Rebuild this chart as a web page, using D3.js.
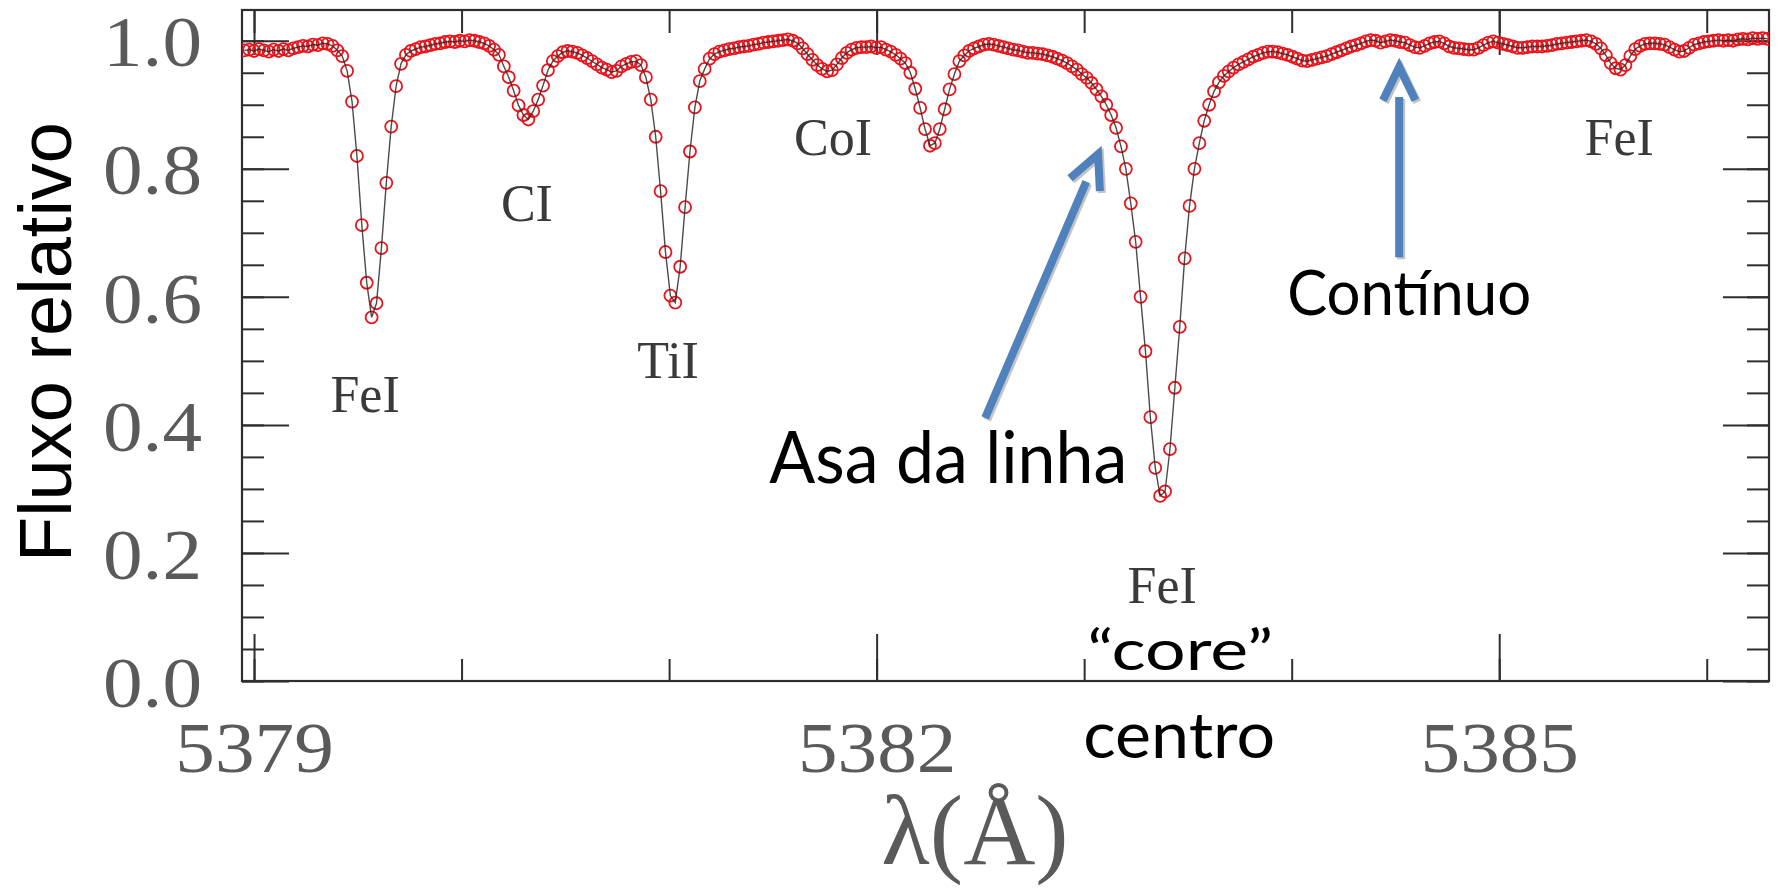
<!DOCTYPE html>
<html>
<head>
<meta charset="utf-8">
<script src="https://cdn.jsdelivr.net/npm/d3@7"></script>
<style>
  html, body { margin: 0; padding: 0; background: #fff; }
  svg { display: block; }
</style>
</head>
<body>
<svg id="chart" width="1781" height="889"></svg>
<script>
// Solar spectrum around 5382 Å, sampled on a regular wavelength grid
const lambdaStart = 5378.953;   // Å, first sample
const lambdaStep = 0.0236;      // Å per sample

// Relative flux for each sample
const flux = [
  0.985,0.986,0.984,0.987,0.985,0.983,0.986,0.984,0.987,0.985,
  0.988,0.990,0.992,0.991,0.994,0.993,0.996,0.995,0.992,0.985,
  0.976,0.953,0.905,0.820,0.712,0.622,0.568,0.590,0.676,0.778,
  0.866,0.929,0.964,0.978,0.984,0.987,0.990,0.991,0.993,0.995,
  0.996,0.998,0.999,0.998,1.000,0.999,1.001,1.000,0.998,0.996,
  0.992,0.986,0.978,0.960,0.943,0.922,0.899,0.884,0.877,0.890,
  0.908,0.930,0.954,0.968,0.976,0.982,0.984,0.983,0.981,0.977,
  0.973,0.968,0.963,0.958,0.955,0.951,0.953,0.960,0.964,0.967,
  0.968,0.962,0.943,0.908,0.850,0.765,0.670,0.602,0.591,0.647,
  0.740,0.827,0.896,0.937,0.956,0.972,0.979,0.983,0.985,0.987,
  0.988,0.990,0.991,0.992,0.994,0.995,0.997,0.998,0.999,1.000,
  1.001,1.002,1.000,0.996,0.988,0.979,0.970,0.962,0.956,0.952,
  0.954,0.963,0.973,0.981,0.986,0.989,0.990,0.990,0.991,0.989,
  0.990,0.986,0.983,0.978,0.972,0.965,0.950,0.925,0.895,0.862,
  0.836,0.840,0.862,0.893,0.924,0.948,0.968,0.977,0.984,0.988,
  0.991,0.994,0.995,0.994,0.992,0.990,0.988,0.986,0.985,0.983,
  0.981,0.981,0.980,0.979,0.977,0.975,0.972,0.969,0.965,0.960,
  0.955,0.948,0.942,0.934,0.924,0.913,0.900,0.884,0.864,0.835,
  0.800,0.746,0.686,0.600,0.515,0.412,0.333,0.289,0.296,0.362,
  0.458,0.553,0.660,0.742,0.800,0.840,0.875,0.900,0.921,0.935,
  0.945,0.952,0.958,0.963,0.967,0.971,0.975,0.978,0.981,0.983,
  0.983,0.982,0.980,0.978,0.975,0.972,0.969,0.968,0.970,0.972,
  0.974,0.976,0.979,0.982,0.985,0.988,0.991,0.993,0.996,0.999,
  1.001,1.000,0.997,0.999,1.001,1.000,0.998,0.997,0.993,0.990,
  0.989,0.992,0.996,0.998,0.999,0.996,0.991,0.989,0.988,0.987,
  0.986,0.986,0.989,0.993,0.997,0.999,0.997,0.995,0.993,0.991,
  0.989,0.989,0.990,0.991,0.991,0.991,0.992,0.993,0.995,0.996,
  0.997,0.998,0.999,1.000,1.001,0.999,0.995,0.988,0.977,0.965,
  0.957,0.955,0.962,0.976,0.987,0.992,0.995,0.996,0.996,0.995,
  0.994,0.990,0.986,0.983,0.984,0.989,0.994,0.996,0.998,0.999,
  1.000,1.001,1.000,1.001,1.000,1.002,1.003,1.002,1.004,1.003,
  1.004,1.003
];

// Axis ticks
const xMajorTicks = [5379, 5382, 5385];
const xMinorTicks = [5379, 5380, 5381, 5382, 5383, 5384, 5385, 5386];
const yMajorTicks = [0, 0.2, 0.4, 0.6, 0.8, 1.0];
const yMinorTicks = d3.range(0, 21).map(k => k / 20);

// Line identifications (anchored at wavelength / flux of the label baseline)
const lineIds = ["FeI", "CI", "TiI", "CoI", "FeI", "FeI"];
const lineIdLambda = [5379.535, 5380.315, 5380.995, 5381.790, 5383.376, 5385.578];
const lineIdFlux = [0.420, 0.718, 0.473, 0.821, 0.122, 0.821];

// Explanatory notes
const noteText = ["Asa da linha", "Contínuo", "\u201Ccore\u201D", "centro"];
const noteLambda = [5382.345, 5384.566, 5383.463, 5383.458];
const noteFlux = [0.309, 0.572, 0.017, -0.120];
const noteSize = [71, 61, 57, 63];
const noteWidth = [358, 244, 186, 192];

// Arrows: tail -> tip in (wavelength, flux)
const arrowFrom = [[5382.523, 0.411], [5384.518, 0.662]];
const arrowTo = [[5383.067, 0.823], [5384.518, 0.959]];

const svg = d3.select("#chart");
const W = 1781, H = 889;
const plot = { left: 242, right: 1769, top: 10, bottom: 681 };

const x = d3.scaleLinear().domain([5378.942, 5386.30]).range([plot.left, plot.right]);
const y = d3.scaleLinear().domain([0, 1.048]).range([plot.bottom, plot.top]);

const spectrum = flux.map((f, i) => ({ lambda: lambdaStart + i * lambdaStep, flux: f }));

svg.append("rect").attr("width", W).attr("height", H).attr("fill", "#fff");

svg.append("clipPath").attr("id", "plotClip")
  .append("rect")
  .attr("x", plot.left).attr("y", plot.top)
  .attr("width", plot.right - plot.left).attr("height", plot.bottom - plot.top);

// ---- axes ----
const axisColor = "#2e2e2e";
const tickFont = "'Liberation Serif', 'Times New Roman', serif";
const tickFontSize = 72;

function styleAxis(g) {
  g.select(".domain").remove();
  g.selectAll(".tick line").attr("stroke", axisColor).attr("stroke-width", 2);
  g.selectAll(".tick text")
    .attr("fill", "#5a5a5a")
    .attr("font-family", tickFont)
    .attr("font-size", tickFontSize)
    .each(function () {
      // slightly wider digits
      const len = this.getComputedTextLength();
      if (len > 0) {
        d3.select(this).attr("textLength", len * 1.1).attr("lengthAdjust", "spacingAndGlyphs");
      }
    });
}

// left
svg.append("g").attr("transform", `translate(${plot.left},0)`)
  .call(d3.axisLeft(y).tickValues(yMinorTicks).tickSizeInner(-22).tickSizeOuter(0).tickFormat(""))
  .call(styleAxis);
svg.append("g").attr("transform", `translate(${plot.left},0)`)
  .call(d3.axisLeft(y).tickValues(yMajorTicks).tickSizeInner(-47).tickSizeOuter(0)
    .tickPadding(40).tickFormat(d3.format(".1f")))
  .call(styleAxis)
  .call(g => g.selectAll(".tick text").attr("dy", "0.35em"));

// right
svg.append("g").attr("transform", `translate(${plot.right},0)`)
  .call(d3.axisRight(y).tickValues(yMinorTicks).tickSizeInner(-22).tickSizeOuter(0).tickFormat(""))
  .call(styleAxis);
svg.append("g").attr("transform", `translate(${plot.right},0)`)
  .call(d3.axisRight(y).tickValues(yMajorTicks).tickSizeInner(-46).tickSizeOuter(0).tickFormat(""))
  .call(styleAxis);

// bottom
svg.append("g").attr("transform", `translate(0,${plot.bottom})`)
  .call(d3.axisBottom(x).tickValues(xMinorTicks).tickSizeInner(-22).tickSizeOuter(0).tickFormat(""))
  .call(styleAxis);
svg.append("g").attr("transform", `translate(0,${plot.bottom})`)
  .call(d3.axisBottom(x).tickValues(xMajorTicks).tickSizeInner(-47).tickSizeOuter(0)
    .tickPadding(40).tickFormat(d3.format("d")))
  .call(styleAxis);

// top
svg.append("g").attr("transform", `translate(0,${plot.top})`)
  .call(d3.axisTop(x).tickValues(xMinorTicks).tickSizeInner(-23).tickSizeOuter(0).tickFormat(""))
  .call(styleAxis);
svg.append("g").attr("transform", `translate(0,${plot.top})`)
  .call(d3.axisTop(x).tickValues(xMajorTicks).tickSizeInner(-45).tickSizeOuter(0).tickFormat(""))
  .call(styleAxis);

// frame
svg.append("rect")
  .attr("x", plot.left).attr("y", plot.top)
  .attr("width", plot.right - plot.left).attr("height", plot.bottom - plot.top)
  .attr("fill", "none").attr("stroke", axisColor).attr("stroke-width", 2.2);

// axis titles
svg.append("text")
  .attr("x", 975).attr("y", 864)
  .attr("text-anchor", "middle")
  .attr("font-family", tickFont)
  .attr("font-size", 100)
  .attr("fill", "#5a5a5a")
  .text("λ(Å)");

svg.append("text")
  .attr("transform", `translate(71,342) rotate(-90)`)
  .attr("text-anchor", "middle")
  .attr("font-family", "'Liberation Sans', Arial, sans-serif")
  .attr("font-size", 74)
  .attr("fill", "#000")
  .text("Fluxo relativo");

// ---- spectrum ----
const plotG = svg.append("g").attr("clip-path", "url(#plotClip)");

plotG.selectAll("circle.pt")
  .data(spectrum)
  .join("circle")
  .attr("class", "pt")
  .attr("cx", d => x(d.lambda))
  .attr("cy", d => y(d.flux))
  .attr("r", 6)
  .attr("fill", "none")
  .attr("stroke", "#e8141b")
  .attr("stroke-width", 1.8);

plotG.append("path")
  .datum(spectrum)
  .attr("d", d3.line().x(d => x(d.lambda)).y(d => y(d.flux)))
  .attr("fill", "none")
  .attr("stroke", "#2b2b2b")
  .attr("stroke-opacity", 0.85)
  .attr("stroke-width", 1.4);

// ---- line identifications ----
svg.append("g").selectAll("text")
  .data(lineIds)
  .join("text")
  .attr("x", (d, i) => x(lineIdLambda[i]))
  .attr("y", (d, i) => y(lineIdFlux[i]))
  .attr("text-anchor", "middle")
  .attr("font-family", tickFont)
  .attr("font-size", 52)
  .attr("fill", "#3a3a3a")
  .text(d => d);

// ---- arrows ----
const arrowColor = "#4f81bd";
const headLen = 37, headAngle = 26 * Math.PI / 180, shaftBack = 30;

function arrowPaths(i) {
  const x0 = x(arrowFrom[i][0]), y0 = y(arrowFrom[i][1]);
  const x1 = x(arrowTo[i][0]), y1 = y(arrowTo[i][1]);
  const len = Math.hypot(x1 - x0, y1 - y0);
  const ux = (x1 - x0) / len, uy = (y1 - y0) / len;
  const bx = -ux, by = -uy;
  const rot = a => [bx * Math.cos(a) - by * Math.sin(a), bx * Math.sin(a) + by * Math.cos(a)];
  const a1 = rot(headAngle), a2 = rot(-headAngle);
  const shaft = `M${x0},${y0}L${x1 - ux * shaftBack},${y1 - uy * shaftBack}`;
  const head = `M${x1 + a1[0] * headLen},${y1 + a1[1] * headLen}L${x1},${y1}L${x1 + a2[0] * headLen},${y1 + a2[1] * headLen}`;
  return [shaft, head];
}

const arrowG = svg.append("g");
arrowFrom.forEach((_, i) => {
  const [shaft, head] = arrowPaths(i);
  [["#c4c4c4", 2, 2], [arrowColor, 0, 0]].forEach(([col, dx, dy]) => {
    const g = arrowG.append("g").attr("transform", `translate(${dx},${dy})`);
    g.append("path").attr("d", shaft).attr("fill", "none")
      .attr("stroke", col).attr("stroke-width", 8).attr("stroke-linecap", "butt");
    g.append("path").attr("d", head).attr("fill", "none")
      .attr("stroke", col).attr("stroke-width", 8)
      .attr("stroke-linejoin", "miter").attr("stroke-linecap", "butt");
  });
});

// ---- notes ----
svg.append("g").selectAll("text")
  .data(noteText)
  .join("text")
  .attr("x", (d, i) => x(noteLambda[i]))
  .attr("y", (d, i) => y(noteFlux[i]))
  .attr("text-anchor", "middle")
  .attr("font-family", "Lato, 'Open Sans', sans-serif")
  .attr("font-size", (d, i) => noteSize[i])
  .attr("textLength", (d, i) => noteWidth[i])
  .attr("lengthAdjust", "spacingAndGlyphs")
  .attr("fill", "#000")
  .text(d => d);
</script>
</body>
</html>
